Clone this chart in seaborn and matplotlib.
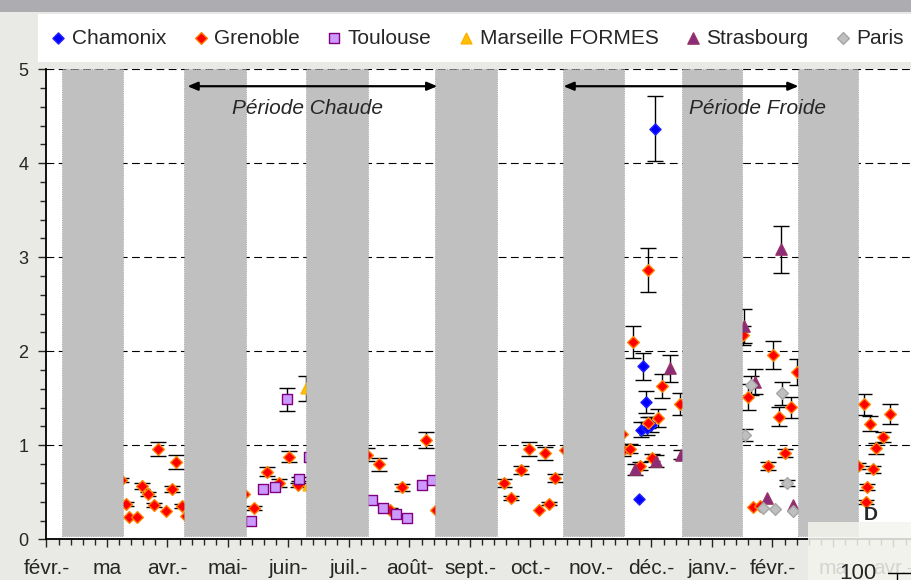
# -*- coding: utf-8 -*-
"""
Suivi des concentrations par site (fev. a avr.), periodes chaude / froide.
Valeurs relevees a l'oeil sur la capture.
"""

#%% Packages
import pandas as pd
import numpy as np
import seaborn as sns
import matplotlib
matplotlib.use("Agg")
import matplotlib.pyplot as plt
from matplotlib.patches import Rectangle
from matplotlib.lines import Line2D
from matplotlib.ticker import MultipleLocator

sns.set_style("white")
plt.rcParams['font.family'] = ['Liberation Sans', 'DejaVu Sans']


#%% Data (x = mois depuis fevr., 0 = fevr.)

month_labels = ["févr.-", "ma", "avr.-", "mai-", "juin-", "juil.-", "août-", "sept.-",
                "oct.-", "nov.-", "déc.-", "janv.-", "févr.-", "ma", "avr.-"]

# Grenoble
gre_x = [1.231, 1.314, 1.369, 1.501, 1.574, 1.678, 1.772, 1.848, 1.970, 2.074, 2.145, 2.235, 2.306,
         3.264, 3.435, 3.640, 3.848, 4.013, 4.157,
         5.298, 5.496, 5.678, 5.871, 6.268, 6.438,
         7.567, 7.678, 7.838, 7.970, 8.140, 8.240, 8.311, 8.410, 8.570,
         9.512, 9.521, 9.645, 9.689, 9.810, 9.947, 9.950, 10.003, 10.107, 10.179, 10.471,
         11.512, 11.600, 11.683, 11.788, 11.921, 12.003, 12.107, 12.212, 12.306, 12.405,
         13.413, 13.512, 13.545, 13.567, 13.612, 13.656, 13.711, 13.821, 13.947]
gre_y = [0.63, 0.372, 0.234, 0.234, 0.567, 0.482, 0.362, 0.957, 0.304, 0.532, 0.822, 0.358, 0.25,
         0.48, 0.33, 0.72, 0.60, 0.88, 0.58,
         0.90, 0.80, 0.31, 0.553, 1.06, 0.31,
         0.60, 0.44, 0.737, 0.96, 0.31, 0.915, 0.38, 0.65, 0.95,
         1.12, 0.95, 0.965, 2.10, 0.78, 1.24, 2.865, 0.87, 1.29, 1.63, 1.44,
         2.17, 1.517, 0.34, 0.355, 0.78, 1.96, 1.305, 0.92, 1.404, 1.78,
         0.78, 1.436, 0.40, 0.553, 1.227, 0.745, 0.968, 1.09, 1.333]
gre_err = [0.02, 0.02, 0.0, 0.0, 0.03, 0.02, 0.02, 0.075, 0.0, 0.03, 0.07, 0.02, 0.0,
           0.0, 0.02, 0.05, 0.04, 0.06, 0.02,
           0.07, 0.07, 0.02, 0.04, 0.085, 0.0,
           0.04, 0.02, 0.04, 0.07, 0.0, 0.07, 0.02, 0.04, 0.0,
           0.0, 0.06, 0.05, 0.17, 0.04, 0.06, 0.23, 0.04, 0.10, 0.13, 0.12,
           0.10, 0.14, 0.0, 0.0, 0.04, 0.15, 0.10, 0.045, 0.11, 0.14,
           0.03, 0.115, 0.02, 0.03, 0.08, 0.04, 0.06, 0.05, 0.106]

# Chamonix
cha_x = [9.798, 9.826, 9.855, 9.904, 9.926, 9.992, 10.063]
cha_y = [0.425, 1.163, 1.84, 1.46, 1.18, 1.22, 4.37]
cha_err = [0.0, 0.08, 0.145, 0.117, 0.07, 0.08, 0.35]

# Toulouse
tou_x = [3.375, 3.574, 3.777, 3.975, 4.169, 4.339, 5.380, 5.567, 5.772, 5.964, 6.207, 6.372]
tou_y = [0.198, 0.535, 0.556, 1.49, 0.645, 0.875, 0.418, 0.336, 0.272, 0.23, 0.58, 0.628]
tou_err = [0.0, 0.0, 0.0, 0.12, 0.02, 0.0, 0.0, 0.0, 0.0, 0.0, 0.0, 0.0]

# Marseille FORMES
mar_x = [4.289, 4.322]
mar_y = [1.605, 0.58]
mar_err = [0.13, 0.0]

# Strasbourg
str_x = [9.727, 10.074, 10.306, 10.488, 11.529, 11.711, 11.914, 12.141, 12.334]
str_y = [0.745, 0.833, 1.82, 0.90, 2.27, 1.677, 0.436, 3.085, 0.365]
str_err = [0.06, 0.06, 0.144, 0.05, 0.18, 0.136, 0.0, 0.25, 0.0]

# Paris
par_x = [11.545, 11.640, 11.838, 12.041, 12.152, 12.245, 12.344]
par_y = [1.11, 1.64, 0.33, 0.32, 1.553, 0.596, 0.305]
par_err = [0.06, 0.10, 0.0, 0.0, 0.12, 0.03, 0.0]

# bandes grises (un mois sur deux)
band_start = [0.256, 2.273, 4.289, 6.421, 8.542, 10.504, 12.421]
band_end = [1.260, 3.293, 5.319, 7.441, 9.540, 11.496, 13.408]

# periodes : fleche + libelle
periods = ["Période Chaude", "Période Froide"]
period_start = [2.33, 8.545]
period_end = [6.46, 12.43]
period_text_x = [4.32, 11.75]


#%% DataFrame

frames = []
for name, xs, ys, es in [("Chamonix", cha_x, cha_y, cha_err),
                         ("Grenoble", gre_x, gre_y, gre_err),
                         ("Toulouse", tou_x, tou_y, tou_err),
                         ("Marseille FORMES", mar_x, mar_y, mar_err),
                         ("Strasbourg", str_x, str_y, str_err),
                         ("Paris", par_x, par_y, par_err)]:
    frames.append(pd.DataFrame({"site": name, "x": xs, "y": ys, "err": es}))
df = pd.concat(frames, ignore_index=True)

styles = {
    "Chamonix":         dict(marker="D", s=32, color="#0000FF", edgecolor="#2020FF"),
    "Grenoble":         dict(marker="D", s=36, color="#FF0000", edgecolor="#FF8000"),
    "Toulouse":         dict(marker="s", s=58, color="#CC99FF", edgecolor="#800080"),
    "Marseille FORMES": dict(marker="^", s=60, color="#FFC000", edgecolor="#FFB000"),
    "Strasbourg":       dict(marker="^", s=66, color="#8B2C7A", edgecolor="#993366"),
    "Paris":            dict(marker="D", s=36, color="#BFBFBF", edgecolor="#A6A6A6"),
}


#%% Plot

W, H = 912, 580
fig = plt.figure(figsize=(W / 100, H / 100), dpi=100, facecolor="#E9E9E5")
ax = fig.add_axes([46.5 / W, (H - 539.3) / H, (W - 46.5) / W, 470 / H])
ax.set_facecolor("white")

# bandeau gris en haut + cadre blanc de la legende
fig.add_artist(Rectangle((0, 1 - 12 / H), 1, 12 / H, transform=fig.transFigure,
                         facecolor="#ADADB1", edgecolor="none", zorder=-1))
fig.add_artist(Rectangle((38 / W, 1 - 62 / H), 1, 48 / H, transform=fig.transFigure,
                         facecolor="white", edgecolor="none", zorder=-1))

for site, st in styles.items():
    d = df[df["site"] == site]
    de = d[d["err"] > 0]
    ax.errorbar(de["x"], de["y"], yerr=de["err"], fmt="none", ecolor="black",
                elinewidth=1, capsize=5.5, capthick=1, zorder=2)
    sns.scatterplot(data=d, x="x", y="y", ax=ax, marker=st["marker"], s=st["s"],
                    color=st["color"], edgecolor=st["edgecolor"], linewidth=1,
                    label=site, legend=False, zorder=3)

# bandes grises par-dessus les points
ax.bar(band_start, 4.97, width=np.array(band_end) - np.array(band_start), bottom=0.03,
       align="edge", color="#C0C0C0", edgecolor="#9A9A9A", linestyle=":", linewidth=0.6,
       zorder=4)

# fleches + texte
for lab, x0, x1, xt in zip(periods, period_start, period_end, period_text_x):
    ax.annotate("", xy=(x1, 4.82), xytext=(x0, 4.82),
                arrowprops=dict(arrowstyle="<|-|>,head_length=0.6,head_width=0.25",
                                color="black", lw=1.6, mutation_scale=10,
                                shrinkA=0, shrinkB=0), zorder=6)
    ax.text(xt, 4.585, lab, style="italic", ha="center", va="center",
            fontsize=15, zorder=6)

# axes
ax.set_xlim(0, (W - 46.5) / 60.5)
ax.set_ylim(0, 5)
ax.set_xticks(range(len(month_labels)))
ax.set_xticklabels(month_labels, fontsize=15)
ax.xaxis.set_minor_locator(MultipleLocator(0.2))
ax.set_yticks(range(0, 6))
ax.yaxis.set_minor_locator(MultipleLocator(0.2))
ax.tick_params(axis="y", which="major", labelsize=13, length=6, width=1, direction="out",
               left=True, pad=7)
ax.tick_params(axis="y", which="minor", length=4, width=1, direction="out", left=True)
ax.tick_params(axis="x", which="major", length=6, width=1, direction="out", bottom=True,
               pad=8)
ax.tick_params(axis="x", which="minor", length=4.5, width=1, direction="out", bottom=True)
ax.set_xlabel("")
ax.set_ylabel("")
ax.set_axisbelow(True)
ax.yaxis.grid(True, which="major", color="black", linestyle=(0, (7, 4)), linewidth=0.8)
ax.xaxis.grid(False)
for side in ["top", "right"]:
    ax.spines[side].set_visible(False)
for side in ["left", "bottom"]:
    ax.spines[side].set_color("black")
    ax.spines[side].set_linewidth(1.3)

# legende
handles, labels = ax.get_legend_handles_labels()
fig.legend(handles, labels, ncol=6, loc="center left", bbox_to_anchor=(50 / W, 1 - 38 / H),
           frameon=False, fontsize=15, handlelength=0.8, handletextpad=0.25,
           columnspacing=1.25, borderpad=0, borderaxespad=0, scatterpoints=1)

# morceau d'une autre diapo qui recouvre le coin bas droit
fig.add_artist(Rectangle((808 / W, 0), (W - 808) / W, 58 / H, transform=fig.transFigure,
                         facecolor="#F4F4EF", alpha=0.85, edgecolor="none", zorder=5))
fig.text(870.5 / W, 1 - 516 / H, "D", fontsize=14, fontweight="bold", ha="center",
         va="center", zorder=6)
fig.text(858 / W, 1 - 563 / H, "100", fontsize=16, ha="center", va="top", zorder=6)
fig.add_artist(Line2D([888 / W, 1], [1 - 573 / H, 1 - 573 / H], transform=fig.transFigure,
                      color="black", lw=1, zorder=6))
fig.add_artist(Line2D([897 / W, 897 / W], [0, 1 - 573 / H], transform=fig.transFigure,
                      color="black", lw=1, zorder=6))

fig.savefig("out.png", dpi=100, facecolor=fig.get_facecolor())
